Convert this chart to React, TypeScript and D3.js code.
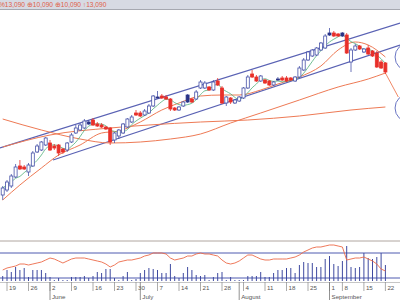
import React from "react";
import * as d3 from "d3";

// ---- data (prices) ----
const opens = [10100,10200,10280,10460,10680,10660,10560,10680,10960,11000,11100,11140,11080,11100,11020,11000,11160,11340,11400,11440,11520,11600,11520,11500,11460,11440,11200,11280,11340,11460,11560,11740,11740,11700,11740,11880,12040,12080,12060,12020,11840,11800,11880,11960,12020,12020,12240,12240,12260,12200,12380,12240,11940,12040,11940,11980,12040,12240,12520,12460,12380,12400,12380,12300,12400,12440,12440,12440,12380,12460,12600,12800,12880,12900,13000,13040,13300,13340,13320,13280,13300,12760,13000,13080,12960,13040,12980,12940,12760,12740];
const highs = [10280,10400,10520,10720,10800,10700,10740,10980,11120,11180,11260,11200,11120,11120,11040,11160,11340,11500,11540,11620,11600,11640,11560,11540,11480,11460,11360,11420,11540,11640,11700,11800,11780,11820,11920,12100,12180,12120,12100,12040,11860,11880,11980,12120,12040,12200,12400,12380,12280,12400,12440,12280,12080,12060,12020,12080,12260,12500,12600,12500,12500,12420,12400,12380,12460,12480,12480,12460,12480,12680,12840,12980,13020,13060,13160,13320,13440,13380,13340,13360,13340,13040,13120,13100,13040,13100,13000,12980,12800,12760];
const lows = [10000,10160,10240,10440,10600,10600,10480,10660,10940,10980,11080,10980,11000,10880,10920,10960,11140,11320,11380,11420,11500,11480,11460,11440,11400,11100,11140,11220,11320,11440,11540,11680,11660,11680,11720,11860,12040,12020,12000,11780,11780,11780,11860,11940,11940,12000,12220,12220,12180,12180,12280,11920,11880,11920,11920,11960,12020,12220,12440,12360,12360,12320,12280,12280,12380,12380,12360,12380,12360,12440,12580,12780,12860,12880,12980,13020,13280,13260,13260,13260,12920,12560,12980,13000,12940,12900,12860,12640,12620,12520];
const closes = [10240,10360,10480,10660,10620,10620,10700,10940,11080,11160,11240,11000,11040,10940,10960,11140,11300,11440,11500,11580,11560,11500,11480,11460,11420,11160,11340,11400,11520,11620,11660,11700,11680,11780,11880,12080,12060,12040,12020,11820,11800,11860,11960,12100,11960,12160,12360,12340,12200,12360,12300,11940,12060,11960,12000,12060,12240,12460,12460,12380,12480,12340,12300,12360,12420,12400,12380,12400,12460,12640,12800,12960,13000,13040,13140,13280,13340,13280,13280,13340,12940,13000,13080,13020,13020,12920,12880,12660,12640,12560];
const solidDays = [20, 36, 43, 64, 76, 79];

const volumes = [500,1100,900,1400,1100,1300,400,1100,1100,1100,800,400,100,300,100,100,400,400,400,500,300,500,900,800,1200,1200,300,100,500,900,100,200,800,1100,1300,1200,1100,800,800,1700,500,300,800,1400,1100,600,500,600,100,400,800,900,100,400,100,100,100,500,500,500,900,400,400,800,1100,1100,1300,1300,800,1600,1900,1800,1800,1400,1400,2200,2500,1700,1500,2000,3500,1400,1300,1400,2800,2300,2200,2400,2800,1600];
const oscillator = [22,26,28,30,34,34,32,34,36,38,42,46,44,40,36,40,44,46,46,46,44,42,40,38,34,28,32,38,40,42,42,44,46,50,52,56,56,56,54,46,42,44,46,50,50,54,56,54,54,52,50,42,36,34,36,40,46,52,52,48,44,42,42,44,44,44,44,46,48,52,58,62,66,68,68,70,72,72,70,68,42,44,46,46,48,44,40,34,24,20];
const oscLevels = [56, 6];

const maShort = [[0,10000],[4,10300],[9,10640],[13,10900],[18,11100],[23,11340],[27,11380],[32,11560],[37,11800],[41,11940],[46,12080],[51,12100],[55,12100],[60,12200],[64,12320],[69,12460],[74,12680],[78,13000],[82,13160],[85,13100],[89,12860]];
const maMid = [[0,11620],[9,11400],[18,11220],[25,11140],[32,11160],[39,11220],[46,11320],[53,11540],[60,11740],[69,12000],[78,12260],[85,12420],[89,12540]];
const maLong = [[0,11060],[11,11300],[25,11440],[34,11500],[46,11560],[57,11600],[69,11680],[81,11800],[89,11860]];

const channelUpper = [[-0.63,11040],[92.4,13540]];
const channelLower = [[11.7,10800],[92.4,13100]];
const markerCircles = [[94.5,12860],[94.5,11840]];
const pointer = [[89,12540],[92,12060]];

const weekTicks = [[1,"19"],[6,"26"],[11,"2"],[16,"9"],[21,"16"],[26,"23"],[31,"30"],[36,"7"],[41,"14"],[46,"21"],[51,"28"],[56,"4"],[61,"11"],[66,"18"],[71,"25"],[76,"1"],[79,"8"],[84,"15"],[89,"22"]];
const monthTicks = [[11,"June"],[32,"July"],[55,"August"],[76,"September"]];
const headerText = "%13,090 ⊕10,090 ⊕10,090 ↑13,090";

export default function App() {
  const W = 400, H = 300;
  const n = closes.length;
  const x = d3.scaleLinear().domain([0, n - 1]).range([2.7, 385.4]);
  const y = d3.scaleLinear().domain([9200, 14000]).range([240, 0]);
  const yVol = d3.scaleLinear().domain([0, 4000]).range([281, 241]);
  const yOsc = d3.scaleLinear().domain([0, 80]).range([281, 241]);

  const ma5 = closes.map((_, i) => [i, d3.mean(closes.slice(Math.max(0, i - 4), i + 1)) as number]);
  const line = d3.line<number[]>().x(d => x(d[0])).y(d => y(d[1])).curve(d3.curveMonotoneX);
  const straight = d3.line<number[]>().x(d => x(d[0])).y(d => y(d[1]));
  const oscLine = d3.line<number>().x((_, i) => x(i)).y(d => yOsc(d));

  const bw = 3;
  const blue = "#4652a8";
  const red = "#e8302a";
  const orange = "#ee7a55";
  const font = "'Liberation Sans', Arial, sans-serif";

  return (
    <svg width={W} height={H} style={{ position: "fixed", left: 0, top: 0, background: "#fff" }}>
      <rect x={0} y={0} width={W} height={H} fill="#fff" />
      {/* header */}
      <rect x={0} y={0} width={W} height={9} fill="#d7dae3" />
      <line x1={0} x2={W} y1={9.5} y2={9.5} stroke="#a6a8b0" strokeWidth={1} />
      <text x={-1} y={7} fontSize={6.6} fill="#e0604a" fontFamily={font}>{headerText}</text>

      {/* channel */}
      <path d={straight(channelUpper) || ""} stroke="#5a62b4" strokeWidth={1.2} fill="none" />
      <path d={straight(channelLower) || ""} stroke="#5a62b4" strokeWidth={1.2} fill="none" />
      {markerCircles.map((c, i) => (
        <circle key={i} cx={x(c[0])} cy={y(c[1])} r={14} fill="none" stroke="#6a76c4" strokeWidth={1} />
      ))}
      <path d={straight(pointer) || ""} stroke={orange} strokeWidth={0.9} fill="none" />

      {/* moving averages */}
      <path d={line(maLong) || ""} stroke={orange} strokeWidth={1} fill="none" />
      <path d={line(maMid) || ""} stroke={orange} strokeWidth={1} fill="none" />
      <path d={line(maShort) || ""} stroke={orange} strokeWidth={1} fill="none" />
      <path d={line(ma5) || ""} stroke="#4fae78" strokeWidth={0.8} fill="none" />

      {/* candles */}
      {closes.map((c, i) => {
        const o = opens[i];
        const up = c >= o;
        const solid = solidDays.includes(i);
        const col = up ? blue : red;
        const top = y(Math.max(o, c));
        const h = Math.max(1, Math.abs(y(o) - y(c)));
        return (
          <g key={i}>
            <line x1={x(i)} x2={x(i)} y1={y(highs[i])} y2={y(lows[i])} stroke={col} strokeWidth={0.8} />
            <rect x={x(i) - bw / 2} y={top} width={bw} height={h}
              fill={up ? (solid ? "#2a3488" : "#fff") : red}
              stroke={up ? (solid ? "#2a3488" : blue) : red} strokeWidth={0.8} />
          </g>
        );
      })}

      {/* lower panel */}
      <line x1={0} x2={W} y1={241} y2={241} stroke="#b0a6a0" strokeWidth={1} />
      {oscLevels.map((v, i) => (
        <line key={i} x1={0} x2={W} y1={yOsc(v)} y2={yOsc(v)} stroke="#4f5ab0" strokeWidth={1} />
      ))}
      {volumes.map((v, i) => (
        <line key={i} x1={x(i)} x2={x(i)} y1={yVol(0)} y2={yVol(v)} stroke="#3f4aa0" strokeWidth={1} />
      ))}
      <path d={oscLine(oscillator) || ""} stroke="#ec6a48" strokeWidth={0.9} fill="none" />
      <line x1={0} x2={W} y1={282.5} y2={282.5} stroke="#b8b8b8" strokeWidth={0.8} />

      {/* axis */}
      {weekTicks.map(([i, lab]) => (
        <g key={"w" + i}>
          <line x1={x(i as number)} x2={x(i as number)} y1={282} y2={291} stroke="#888" strokeWidth={0.7} />
          <text x={x(i as number) + 2} y={289.5} fontSize={6.2} fill="#555" fontFamily={font}>{lab}</text>
        </g>
      ))}
      {monthTicks.map(([i, lab]) => (
        <g key={"m" + i}>
          <line x1={x(i as number)} x2={x(i as number)} y1={282} y2={300} stroke="#777" strokeWidth={0.8} />
          <text x={x(i as number) + 2} y={298.5} fontSize={6.2} fill="#555" fontFamily={font}>{lab}</text>
        </g>
      ))}
    </svg>
  );
}
